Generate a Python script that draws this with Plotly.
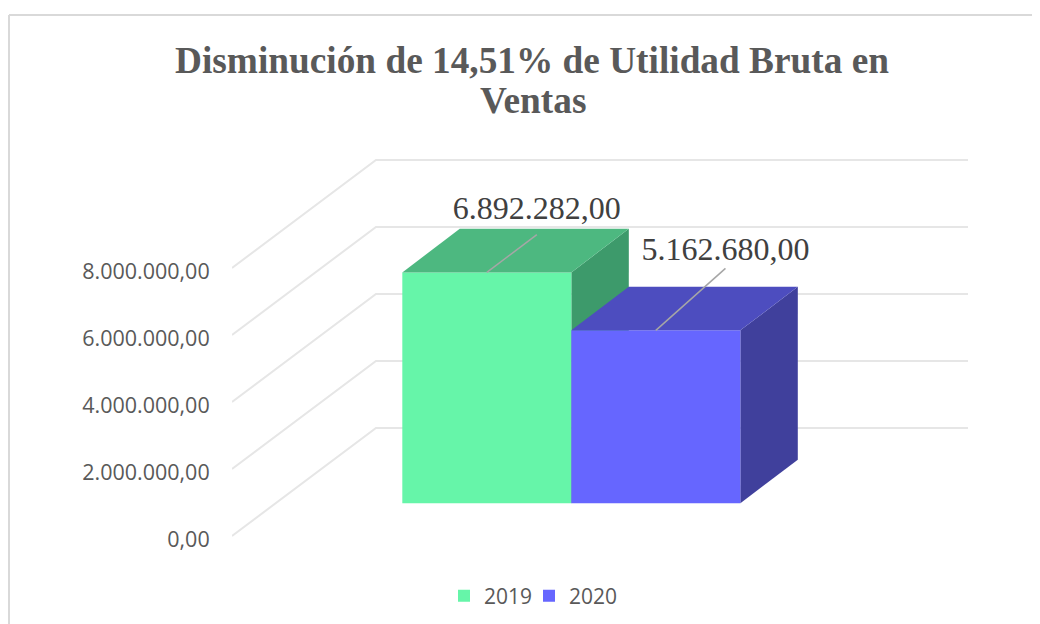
import plotly.graph_objects as go

# Data
TITLE_LINE_1 = "Disminución de 14,51% de Utilidad Bruta en"
TITLE_LINE_2 = "Ventas"
YEARS = ["2019", "2020"]
VALUES = [6892282.0, 5162680.0]
Y_TICKS = [0, 2000000, 4000000, 6000000, 8000000]

# Pseudo-3D projection, in axis units
FLOOR_BASE = 976000.0          # bar plane raised above the chart's front plane
BAR_DX, BAR_DY = 0.34, 1300000.0
WALL_DX, WALL_DY = 0.852, 3224000.0
X_RANGE = [-1.5077, 3.273]
Y_RANGE = [-2627000.0, 15760000.0]
GRID_END = 2.847
LEADER_DX = [0.296, 0.412]
LEADER_DY = [1125000.0, 1850000.0]
LABEL_DY = [240000.0, 0.0]

FRONT = ["#66F5A9", "#6666FF"]
TOP = ["#4DB880", "#4D4DBF"]
SIDE = ["#3D9A6B", "#40409C"]
GRID = "#E6E6E6"
TEXT = "#595959"

fig = go.Figure()

# Back wall and floor gridlines on the base axes, so they stay behind the bars
for t in Y_TICKS:
    fig.add_trace(go.Scatter(
        x=[X_RANGE[0], X_RANGE[0] + WALL_DX, GRID_END],
        y=[t, t + WALL_DY, t + WALL_DY],
        mode="lines", line=dict(color=GRID, width=2),
        showlegend=False, hoverinfo="skip", xaxis="x", yaxis="y"))

# Side faces, also on the base axes: the next bar's front and top cover them
for i, v in enumerate(VALUES):
    r = i + 0.5
    b, t = FLOOR_BASE, FLOOR_BASE + v
    fig.add_trace(go.Scatter(
        x=[r, r + BAR_DX, r + BAR_DX, r, r],
        y=[b, b + BAR_DY, t + BAR_DY, t, b],
        mode="lines", fill="toself", fillcolor=SIDE[i], line=dict(width=0),
        showlegend=False, hoverinfo="skip", xaxis="x", yaxis="y"))

# Front faces; each year gets its own legend box so the pitch can match
LEGENDS = ["legend", "legend2"]
for i, (year, v) in enumerate(zip(YEARS, VALUES)):
    fig.add_trace(go.Bar(
        x=[i], y=[v], base=[FLOOR_BASE], width=[1.0], name=year,
        marker=dict(color=FRONT[i], line=dict(width=0)), legend=LEGENDS[i],
        showlegend=True, hoverinfo="skip", xaxis="x2", yaxis="y2"))

# Top faces
for i, v in enumerate(VALUES):
    l, r = i - 0.5, i + 0.5
    t = FLOOR_BASE + v
    fig.add_trace(go.Scatter(
        x=[l, l + BAR_DX, r + BAR_DX, r, l],
        y=[t, t + BAR_DY, t + BAR_DY, t, t],
        mode="lines", fill="toself", fillcolor=TOP[i], line=dict(width=0),
        showlegend=False, hoverinfo="skip", xaxis="x2", yaxis="y2"))

# Leader lines and data labels
for i, v in enumerate(VALUES):
    t = FLOOR_BASE + v
    fig.add_trace(go.Scatter(
        x=[i, i + LEADER_DX[i]], y=[t, t + LEADER_DY[i]],
        mode="lines", line=dict(color="#A6A6A6", width=1.5),
        showlegend=False, hoverinfo="skip", xaxis="x2", yaxis="y2"))
    label = f"{v:,.2f}".replace(",", "_").replace(".", ",").replace("_", ".")
    fig.add_trace(go.Scatter(
        x=[i + LEADER_DX[i]], y=[t + LEADER_DY[i] + LABEL_DY[i]],
        mode="text", text=[label], textposition="top center",
        textfont=dict(family="Liberation Serif", size=32, color="#404040"),
        showlegend=False, hoverinfo="skip", xaxis="x2", yaxis="y2"))

# The page adds an 8 px body margin, so the figure is 8 px smaller than the window
OFF = 8
W, H = 1040 - OFF, 624 - OFF
ML = 232 - OFF
px = lambda p: (p - OFF - ML) / (W - ML)
py = lambda p: 1 - (p - OFF) / H

axis_hidden = dict(visible=False, fixedrange=True)
TITLE_FONT = dict(family="Liberation Serif", size=37.3, color=TEXT, weight="bold")
LEGEND_STYLE = dict(
    orientation="h", y=py(596), xanchor="left", yanchor="middle",
    font=dict(family="Open Sans", size=21, color=TEXT), bgcolor="rgba(0,0,0,0)")
fig.update_layout(
    width=W, height=H,
    margin=dict(l=ML, r=0, t=0, b=0, pad=0),
    paper_bgcolor="white", plot_bgcolor="rgba(0,0,0,0)",
    separators=",.",
    barmode="overlay",
    title=dict(
        text=TITLE_LINE_1, x=(532 - OFF) / W, xanchor="center", xref="container",
        y=py(60), yanchor="middle", yref="container", font=TITLE_FONT),
    annotations=[dict(
        text=TITLE_LINE_2, xref="paper", yref="paper", x=px(533), y=py(100),
        xanchor="center", yanchor="middle", showarrow=False, font=TITLE_FONT)],
    xaxis=dict(range=X_RANGE, **axis_hidden),
    yaxis=dict(
        range=Y_RANGE, tickmode="array", tickvals=Y_TICKS, tickformat=",.2f",
        showgrid=False, zeroline=False, showline=False,
        ticks="outside", ticklen=17, tickcolor="rgba(0,0,0,0)", ticklabelshift=3,
        tickfont=dict(family="Open Sans", size=21.5, color=TEXT)),
    xaxis2=dict(range=X_RANGE, overlaying="x", **axis_hidden),
    yaxis2=dict(range=Y_RANGE, overlaying="y", **axis_hidden),
    legend=dict(x=px(444), **LEGEND_STYLE),
    legend2=dict(x=px(529), **LEGEND_STYLE),
    shapes=[
        dict(type="line", xref="paper", yref="paper", x0=px(9), x1=px(9),
             y0=py(15), y1=py(630), line=dict(color="#D9D9D9", width=2), layer="below"),
        dict(type="line", xref="paper", yref="paper", x0=px(9), x1=px(1045),
             y0=py(15), y1=py(15), line=dict(color="#D9D9D9", width=2), layer="below"),
    ],
)

fig.write_html("out.html")
